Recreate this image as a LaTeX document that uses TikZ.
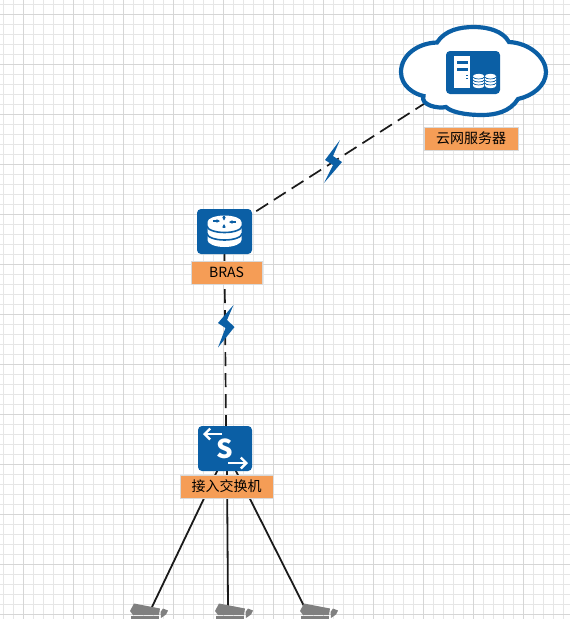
\documentclass[tikz,border=0pt]{standalone}
\usepackage{fontspec}
\usetikzlibrary{arrows.meta}
\setmainfont{Noto Sans CJK SC}
\definecolor{huawei}{HTML}{0B5FA5}
\definecolor{lab}{HTML}{F59D56}
\definecolor{labedge}{HTML}{D9D9D9}
\definecolor{gridminor}{HTML}{E6E6E6}
\definecolor{gridmajor}{HTML}{D6D6D6}
\definecolor{linkc}{HTML}{1A1A1A}
\pgfdeclarelayer{grid}
\pgfdeclarelayer{links}
\pgfsetlayers{grid,links,main}
\tikzset{
  icon/.style={fill=huawei,rounded corners=4pt,inner sep=0pt,minimum width=#1},
  tag/.style={fill=lab,draw=labedge,line width=0.8pt,inner sep=0pt,font=\fontsize{14}{15}\selectfont,text=black},
  dashlink/.style={draw=linkc,line width=1.7pt,dash pattern=on 14pt off 7pt},
  solidlink/.style={draw=linkc,line width=1.8pt},
  bolt/.style={fill=huawei,draw=none},
  camera/.style={fill=black!50,draw=none},
  swarrow/.style={white,line width=2.4pt,-{Straight Barb[length=5.5pt,width=11pt,line width=2.4pt]}},
}
\begin{document}
\begin{tikzpicture}[x=1pt,y=-1pt]
\useasboundingbox (0,0) rectangle (570,619);
\clip (0,0) rectangle (570,619);
\begin{pgfonlayer}{grid}
  \fill[white] (0,0) rectangle (570,619);
  \foreach \k in {0,...,56}{\draw[gridminor,line width=0.9pt] (3.7+10*\k,0) -- (3.7+10*\k,619);}
  \foreach \k in {0,...,61}{\draw[gridminor,line width=0.9pt] (0,4.3+10*\k) -- (570,4.3+10*\k);}
  \foreach \k in {0,...,11}{\draw[gridmajor,line width=1pt] (23.7+50*\k,0) -- (23.7+50*\k,619);}
  \foreach \k in {0,...,12}{\draw[gridmajor,line width=1pt] (0,14.3+50*\k) -- (570,14.3+50*\k);}
\end{pgfonlayer}

% cloud
\draw[draw=huawei,fill=white,line width=4.2pt]
  (423.5,96) .. controls (414,94) and (401,86) .. (401,72)
  .. controls (401,55) and (418,43) .. (437,42.5)
  .. controls (445,30) and (460,27) .. (474,27)
  .. controls (488,27) and (503,31) .. (509,42)
  .. controls (530,43) and (546,58) .. (546,72)
  .. controls (546,86) and (532,96) .. (518,99)
  .. controls (510,112) and (495,115) .. (482,115)
  .. controls (465,115) and (451,112) .. (446,107)
  .. controls (438,109) and (420,105) .. (423.5,96) -- cycle;

% device icons
\node[icon=54pt,minimum height=43pt] (srv) at (473,72.5) {};
\node[icon=55pt,minimum height=45pt] (bras) at (224.5,231.5) {};
\node[icon=54pt,minimum height=45pt] (sw) at (225,448.5) {};

% labels
\node[tag,minimum width=94pt,minimum height=23pt] (srvlab) at (471,138.5) {云网服务器};
\node[tag,minimum width=71pt,minimum height=23pt] (braslab) at (226.5,272.5) {BRAS};
\node[tag,minimum width=93pt,minimum height=23pt] (swlab) at (226.5,486.5) {接入交换机};

% link ends at the cameras
\coordinate (camA) at (152,607);
\coordinate (camB) at (228,606);
\coordinate (camC) at (304,606);

\begin{pgfonlayer}{links}
  \draw[dashlink,dash phase=4.3pt] (bras.center) -- (srv.center);
  \draw[dashlink,dash phase=7pt] (bras.south) -- ([xshift=1pt]sw.north);
  \draw[solidlink] (sw.south) ++(-7,-2) -- (camA);
  \draw[solidlink] (sw.south) ++(2,-2) -- (camB);
  \draw[solidlink] (sw.south) ++(10,-2) -- (camC);
\end{pgfonlayer}

% server details
\fill[white] (454,56) rectangle (470,88);
\fill[huawei] (457,61) rectangle (468,64);
\fill[huawei] (457,68) rectangle (468,71);
\fill[huawei] (465.5,75) rectangle (468,76.2);
\fill[huawei] (465.5,78) rectangle (468,79.2);
\foreach \x in {478.7,490.5}{
  \fill[white] (\x-5.5,76) -- (\x-5.5,86)
    arc[start angle=180,end angle=360,x radius=5.5pt,y radius=2.2pt] -- (\x+5.5,76)
    arc[start angle=0,end angle=180,x radius=5.5pt,y radius=2.2pt] -- cycle;
  \foreach \y in {77,80,83}{
    \draw[huawei,line width=0.7pt] (\x-5.6,\y) arc[start angle=180,end angle=360,x radius=5.6pt,y radius=2pt];
  }
}

% BRAS details
\fill[white] (207.5,222) -- (207.5,240)
  arc[start angle=180,end angle=360,x radius=17pt,y radius=7pt] -- (241.5,222)
  arc[start angle=0,end angle=180,x radius=17pt,y radius=6.5pt] -- cycle;
\foreach \y in {226,233.5}{
  \draw[huawei,line width=1.6pt] (207,\y) arc[start angle=180,end angle=360,x radius=17.5pt,y radius=6.5pt];
}
\foreach \a/\b/\c/\d in {213/221/220/221, 236/222/229/222, 224/216/224/220.5, 224/228/224/224}{
  \draw[huawei,line width=1.2pt,-{Stealth[length=3.5pt,width=3.5pt]}] (\a,\b) -- (\c,\d);
}

% switch details
\draw[swarrow] (222,434) -- (203,434);
\draw[swarrow] (228,463) -- (248,463);
\node[inner sep=0pt,text=white,font=\fontsize{26}{26}\selectfont\bfseries] (swS) at (225,448.5) {S};

% bolts
\fill[bolt] (340,140) -- (325,160) -- (333,165) -- (324,183) -- (342,162) -- (333,156) -- cycle;
\fill[bolt] (233.5,305) -- (218,323) -- (225.5,328) -- (218,347.5) -- (234.5,327) -- (227,320) -- cycle;

% cameras
\foreach \x in {130,215,300}{
  \begin{scope}[xshift=\x pt]
    \fill[camera] (0,611) -- (4,603.5) -- (30,608.5) -- (29,615) -- (3,615) -- cycle;
    \fill[camera] (30.5,612) -- (33,608.5) -- (38,610.5) -- (36,614.5) -- (31,618) -- cycle;
    \fill[camera] (1,616.3) -- (29,616.3) -- (29,619) -- (1,619) -- cycle;
  \end{scope}
}
\end{tikzpicture}
\end{document}
